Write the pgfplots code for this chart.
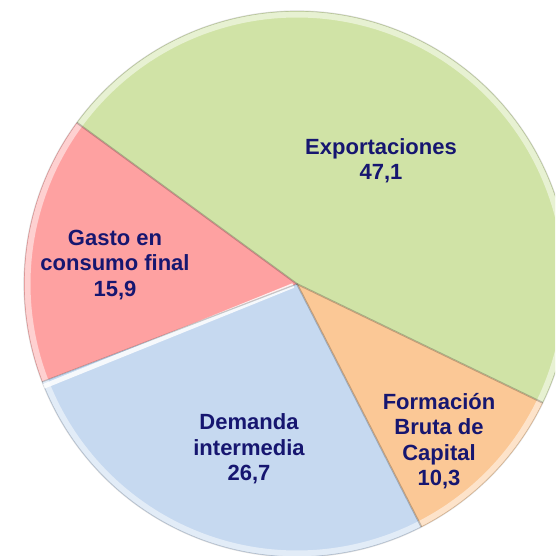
\documentclass[border=0pt]{standalone}
\usepackage{pgfplots}
\pgfplotsset{compat=1.18}
\usepackage{pgfplotstable}
\usepackage{fontspec}
\setmainfont{Liberation Sans}
\definecolor{cExp}{RGB}{208,227,166}
\definecolor{cGas}{RGB}{254,161,161}
\definecolor{cDem}{RGB}{198,217,240}
\definecolor{cFor}{RGB}{251,200,150}
\definecolor{txt}{RGB}{22,22,112}
\tikzset{lbl/.style={align=center, text=txt, font=\bfseries\fontsize{11}{12.7}\selectfont}}

\pgfplotstableread{
name value
Exportaciones 47.1
Gasto 15.9
Demanda 26.7
Formacion 10.3
}\piedata

\pgfplotstablegetelem{0}{value}\of\piedata \let\vA\pgfplotsretval
\pgfplotstablegetelem{1}{value}\of\piedata \let\vB\pgfplotsretval
\pgfplotstablegetelem{2}{value}\of\piedata \let\vC\pgfplotsretval
\pgfplotstablegetelem{3}{value}\of\piedata \let\vD\pgfplotsretval

\pgfmathsetmacro{\aA}{-25.8}
\pgfmathsetmacro{\aB}{\aA+3.6*\vA}
\pgfmathsetmacro{\aC}{\aB+3.6*\vB}
\pgfmathsetmacro{\aD}{\aC+3.6*\vC}
\pgfmathsetmacro{\aE}{\aD+3.6*\vD}
\def\R{273}

\begin{document}
\begin{tikzpicture}
\begin{axis}[
  width=277.5pt, height=278pt, scale only axis,
  xmin=-297, xmax=258, ymin=-272, ymax=284,
  hide axis, clip=true,
]
% slices
\addplot[fill=cExp, draw=none, domain=\aA:\aB, samples=150, variable=\t] ({\R*cos(t)},{\R*sin(t)}) -- (0,0) -- cycle;
\addplot[fill=cGas, draw=none, domain=\aB:\aC, samples=60, variable=\t] ({\R*cos(t)},{\R*sin(t)}) -- (0,0) -- cycle;
\addplot[fill=cDem, draw=none, domain=\aC:\aD, samples=100, variable=\t] ({\R*cos(t)},{\R*sin(t)}) -- (0,0) -- cycle;
\addplot[fill=cFor, draw=none, domain=\aD:\aE, samples=50, variable=\t] ({\R*cos(t)},{\R*sin(t)}) -- (0,0) -- cycle;
% rim highlight (bevel)
\addplot[draw=white, opacity=0.5, line width=3pt, domain=\aA:\aE, samples=300, variable=\t] ({(\R-3.5)*cos(t)},{(\R-3.5)*sin(t)});
\addplot[draw=black, opacity=0.14, line width=0.6pt, domain=\aA:\aE, samples=300, variable=\t] ({\R*cos(t)},{\R*sin(t)});
% radial edges
\addplot[draw=black, opacity=0.22, line width=0.9pt, domain=0:\R, samples=2] ({x*cos(\aA)},{x*sin(\aA)});
\addplot[draw=black, opacity=0.22, line width=0.9pt, domain=0:\R, samples=2] ({x*cos(\aB)},{x*sin(\aB)});
\addplot[draw=white, opacity=0.85, line width=2.4pt, domain=4:\R, samples=2] ({x*cos(\aC+1.0)},{x*sin(\aC+1.0)});
\addplot[draw=black, opacity=0.2, line width=0.6pt, domain=0:\R, samples=2] ({x*cos(\aC)},{x*sin(\aC)});
\addplot[draw=black, opacity=0.22, line width=0.9pt, domain=0:\R, samples=2] ({x*cos(\aD)},{x*sin(\aD)});
% labels
\node[lbl] at (axis cs:84,123) {Exportaciones\\47,1};
\node[lbl] at (axis cs:-182,19) {Gasto en\\consumo final\\15,9};
\node[lbl] at (axis cs:-48,-165) {Demanda\\intermedia\\26,7};
\node[lbl] at (axis cs:142,-157) {Formación\\Bruta de\\Capital\\10,3};
\end{axis}
\pgfresetboundingbox
\useasboundingbox (current axis.south west) rectangle (current axis.north east);
\end{tikzpicture}
\end{document}
